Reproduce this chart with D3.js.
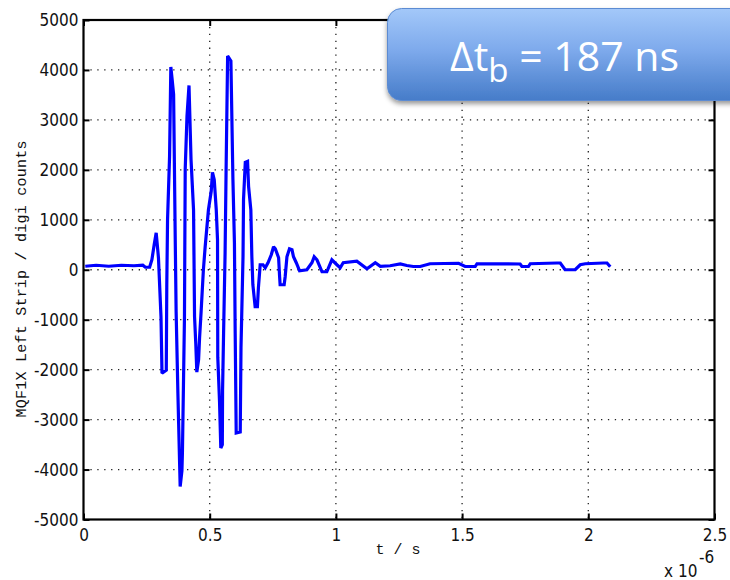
<!DOCTYPE html>
<html>
<head>
<meta charset="utf-8">
<script src="https://cdn.jsdelivr.net/npm/d3@7"></script>
<style>
    body { margin: 0; background: #ffffff; }
</style>
</head>
<body>
<svg id="bpm-chart" width="730" height="580"></svg>
<script>
// time axis in units of 1e-6 s (the "x 10^-6" multiplier is drawn separately)
const timeUs = [0.007, 0.05, 0.1, 0.15, 0.2, 0.235, 0.245, 0.262,
    0.271, 0.280, 0.288, 0.297, 0.307, 0.311, 0.328, 0.330, 0.333, 0.341, 0.346, 0.351,
    0.357, 0.363, 0.367, 0.374, 0.383, 0.390, 0.392, 0.396, 0.400, 0.403, 0.410, 0.418,
    0.426, 0.436, 0.440, 0.445, 0.449, 0.456, 0.460, 0.466, 0.475, 0.482, 0.495, 0.506,
    0.511, 0.518, 0.526, 0.531, 0.532, 0.539, 0.544, 0.550, 0.551, 0.555, 0.561, 0.565,
    0.571, 0.584, 0.592, 0.598, 0.601, 0.605, 0.621, 0.624, 0.632, 0.634, 0.641, 0.650,
    0.654, 0.663, 0.667, 0.671, 0.680, 0.689, 0.693, 0.700, 0.711, 0.720, 0.731, 0.744,
    0.753, 0.760, 0.773, 0.777, 0.779, 0.795, 0.799, 0.806, 0.816, 0.826, 0.832, 0.843,
    0.856, 0.885, 0.905, 0.914, 0.925, 0.945, 0.964, 0.984, 1.004, 1.017, 1.029, 1.083,
    1.123, 1.156, 1.176, 1.215, 1.255, 1.281, 1.307, 1.334, 1.373, 1.486, 1.512, 1.552,
    1.559, 1.730, 1.737, 1.763, 1.770, 1.876, 1.889, 1.908, 1.948, 1.968, 1.988, 2.060,
    2.074, 2.087];
const counts = [70, 90, 70, 90, 80, 90, 50, 50,
    200, 500, 740, 240, -940, -2070, -2010, -300, 1000, 2270, 4060, 3820,
    3510, 800, -840, -2470, -4340, -4020, -3650, -2310, -960, 2010, 3070, 3690,
    2210, 1200, -940, -1500, -2050, -1800, -1350, -840, 0, 460, 1200, 1570,
    1950, 1800, 1200, 600, -1750, -2650, -3570, -3500, -2410, -1270, 340, 2010,
    4280, 4180, 1810, 540, -1270, -3270, -3250, -1550, 260, 1410, 2150, 2170,
    1670, 1200, 260, -300, -740, -740, -360, 100, 100, 40, 140, 300,
    460, 420, 240, -140, -300, -300, -140, 260, 420, 400, 260, 140,
    -20, 0, 140, 260, 200, -40, -40, 200, 100, 40, 140, 170,
    20, 140, 70, 80, 115, 85, 65, 65, 120, 130, 65, 65,
    120, 115, 65, 65, 120, 135, 135, 0, 0, 100, 120, 135,
    135, 60];

const xTickValues = [0, 0.5, 1, 1.5, 2, 2.5];
const xTickLabels = ["0", "0.5", "1", "1.5", "2", "2.5"];
const yTickValues = [-5000, -4000, -3000, -2000, -1000, 0, 1000, 2000, 3000, 4000, 5000];
const yTickLabels = ["-5000", "-4000", "-3000", "-2000", "-1000", "0", "1000", "2000", "3000", "4000", "5000"];

const xLabel = "t / s";
const yLabel = "MQF1X Left Strip / digi counts";
const calloutMain = "Δt";
const calloutSub = "b";
const calloutRest = " = 187 ns";

const drawSignal = function (svg) {
    let margin = {top: 20, bottom: 60.5, left: 83.5, right: 15.5};
    let width = +svg.attr("width");
    let height = +svg.attr("height");
    let chartWidth = width - margin.left - margin.right;
    let chartHeight = height - margin.top - margin.bottom;

    let timeScale = d3.scaleLinear()
        .domain([0, 2.5])
        .range([margin.left, margin.left + chartWidth]);
    let countScale = d3.scaleLinear()
        .domain([-5000, 5000])
        .range([margin.top + chartHeight, margin.top]);

    // dotted grid
    let grid = svg.append("g").attr("class", "grid");
    grid.selectAll("line.vgrid")
        .data(xTickValues.slice(1, -1))
        .join("line")
        .attr("x1", d => timeScale(d)).attr("x2", d => timeScale(d))
        .attr("y1", margin.top).attr("y2", margin.top + chartHeight);
    grid.selectAll("line.hgrid")
        .data(yTickValues.slice(1, -1))
        .join("line")
        .attr("x1", margin.left).attr("x2", margin.left + chartWidth)
        .attr("y1", d => countScale(d)).attr("y2", d => countScale(d));
    grid.selectAll("line")
        .style("stroke", "#222")
        .style("stroke-width", 1.3)
        .style("stroke-dasharray", "1.3,5.6");

    // signal
    let points = timeUs.map((t, i) => [t, counts[i]]);
    let line = d3.line()
        .x(d => timeScale(d[0]))
        .y(d => countScale(d[1]));
    svg.append("path")
        .datum(points)
        .attr("d", line)
        .style("fill", "none")
        .style("stroke", "#0000ff")
        .style("stroke-width", 3.2)
        .style("stroke-linejoin", "miter")
        .style("stroke-miterlimit", 2);

    // inward ticks on all four sides, labels on bottom / left
    let tickFont = "'Liberation Sans Narrow', 'DejaVu Sans Condensed', sans-serif";
    let bottomAxis = d3.axisBottom(timeScale).tickValues(xTickValues)
        .tickSizeInner(-6).tickSizeOuter(0)
        .tickFormat((d, i) => xTickLabels[i]);
    let topAxis = d3.axisTop(timeScale).tickValues(xTickValues)
        .tickSizeInner(-6).tickSizeOuter(0).tickFormat("");
    let leftAxis = d3.axisLeft(countScale).tickValues(yTickValues)
        .tickSizeInner(-6).tickSizeOuter(0)
        .tickFormat((d, i) => yTickLabels[i]);
    let rightAxis = d3.axisRight(countScale).tickValues(yTickValues)
        .tickSizeInner(-6).tickSizeOuter(0).tickFormat("");

    let axes = [
        svg.append("g").attr("transform", `translate(0, ${margin.top + chartHeight})`).call(bottomAxis),
        svg.append("g").attr("transform", `translate(0, ${margin.top})`).call(topAxis),
        svg.append("g").attr("transform", `translate(${margin.left}, 0)`).call(leftAxis),
        svg.append("g").attr("transform", `translate(${margin.left + chartWidth}, 0)`).call(rightAxis)
    ];
    axes.forEach(a => {
        a.select(".domain").remove();
        a.selectAll(".tick line").style("stroke", "#000").style("stroke-width", 2);
        a.selectAll(".tick text")
            .style("font-family", tickFont)
            .style("font-size", "17px")
            .style("fill", "#111");
    });
    axes[0].selectAll(".tick text").attr("y", 9).attr("dy", "0.71em");
    axes[2].selectAll(".tick text").attr("x", -5).attr("dy", "0.35em");

    // frame
    svg.append("rect")
        .attr("x", margin.left).attr("y", margin.top)
        .attr("width", chartWidth).attr("height", chartHeight)
        .style("fill", "none")
        .style("stroke", "#000")
        .style("stroke-width", 2.2);

    // axis labels
    let labelFont = "'Liberation Mono', 'DejaVu Sans Mono', monospace";
    svg.append("text")
        .attr("x", 398).attr("y", 554)
        .attr("text-anchor", "middle")
        .style("font-family", labelFont)
        .style("font-size", "15px")
        .style("fill", "#111")
        .text(xLabel);
    svg.append("text")
        .attr("transform", `translate(26, 279) rotate(-90)`)
        .attr("text-anchor", "middle")
        .attr("textLength", 277)
        .attr("lengthAdjust", "spacing")
        .style("font-family", labelFont)
        .style("font-size", "15px")
        .style("fill", "#111")
        .text(yLabel);

    // x 10^-6 multiplier
    svg.append("text")
        .attr("x", 664).attr("y", 577)
        .style("font-family", tickFont)
        .style("font-size", "17px")
        .style("fill", "#111")
        .text("x 10");
    svg.append("text")
        .attr("x", 699).attr("y", 563)
        .style("font-family", tickFont)
        .style("font-size", "17px")
        .style("fill", "#111")
        .text("-6");
}

const drawCallout = function (svg) {
    let defs = svg.append("defs");
    let grad = defs.append("linearGradient")
        .attr("id", "calloutFill")
        .attr("x1", 0).attr("y1", 0).attr("x2", 0).attr("y2", 1);
    grad.append("stop").attr("offset", "0%").attr("stop-color", "#a3c8f9");
    grad.append("stop").attr("offset", "45%").attr("stop-color", "#7eaaec");
    grad.append("stop").attr("offset", "100%").attr("stop-color", "#467cc9");

    let shadow = defs.append("filter").attr("id", "calloutShadow")
        .attr("x", "-10%").attr("y", "-20%").attr("width", "130%").attr("height", "150%");
    shadow.append("feDropShadow")
        .attr("dx", 0).attr("dy", 3)
        .attr("stdDeviation", 2.5)
        .attr("flood-color", "#000")
        .attr("flood-opacity", 0.4);

    svg.append("rect")
        .attr("x", 387.5).attr("y", 8.5)
        .attr("width", 380).attr("height", 92)
        .attr("rx", 14).attr("ry", 14)
        .style("fill", "url(#calloutFill)")
        .style("stroke", "#5b8bd2")
        .style("stroke-width", 1)
        .attr("filter", "url(#calloutShadow)");

    let label = svg.append("text")
        .attr("x", 450).attr("y", 71)
        .style("font-family", "'Open Sans', 'Noto Sans', sans-serif")
        .style("font-size", "41px")
        .style("fill", "#ffffff");
    label.append("tspan").text(calloutMain);
    label.append("tspan").attr("dy", 11).style("font-size", "33px").text(calloutSub);
    label.append("tspan").attr("dy", -11).text(calloutRest);
}

let svg = d3.select("svg#bpm-chart");
drawSignal(svg);
drawCallout(svg);
</script>
</body>
</html>
